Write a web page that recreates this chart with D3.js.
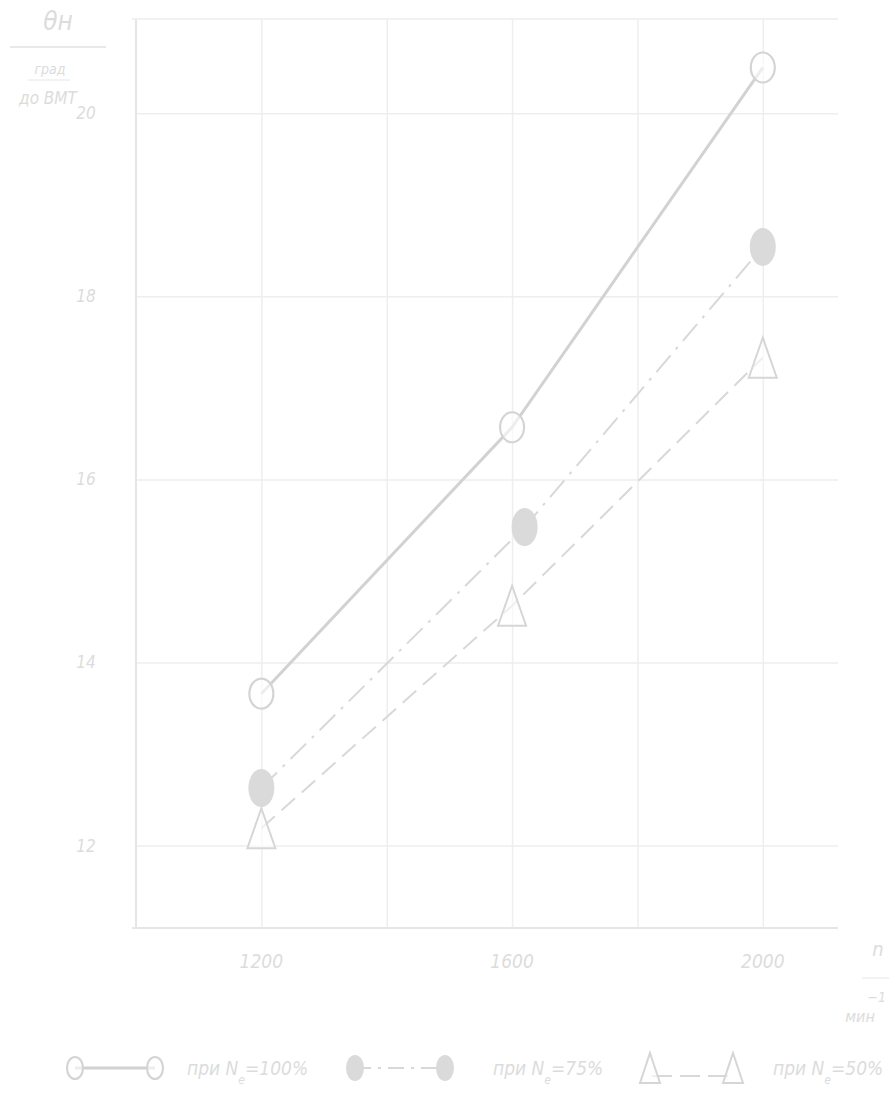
<!DOCTYPE html>
<html>
<head>
<meta charset="utf-8">
<script src="https://cdn.jsdelivr.net/npm/d3@7"></script>
<style>
  body { margin: 0; background: #fff; }
  text { font-family: "Liberation Sans Narrow", "DejaVu Sans Condensed", sans-serif; font-style: italic; fill: #dcdcdc; }
</style>
</head>
<body>
<svg id="chart"></svg>
<script>
// Data
const speeds = [1200, 1600, 2000];
const fullLoad = [13.66, 16.57, 20.5];        // при Nе = 100%
const speedsMid = [1200, 1620, 2000];
const threeQuarterLoad = [12.63, 15.48, 18.54]; // при Nе = 75%
const halfLoad = [12.19, 14.62, 17.33];         // при Nе = 50%
const yTicks = [12, 14, 16, 18, 20];
const xGrid = [1200, 1400, 1600, 1800, 2000];
const xLabels = [1200, 1600, 2000];

const width = 889;
const height = 1102;

const svg = d3.select('#chart')
    .attr('width', width)
    .attr('height', height);

// Scales
const x = d3.scaleLinear().domain([1000, 2120]).range([136, 838]);
const y = d3.scaleLinear().domain([11.1, 21.03]).range([928, 19]);

const gridColor = '#eeeeee';
const lineColor = '#d2d2d2';

// Grid lines
svg.append('g')
    .attr('transform', `translate(0,${y(11.1)})`)
    .call(d3.axisBottom(x).tickValues(xGrid).tickSize(-(y(11.1) - y(21.03))).tickFormat(''))
    .call(g => g.select('.domain').remove())
    .selectAll('line')
    .attr('stroke', gridColor)
    .attr('stroke-width', 1.5);

svg.append('g')
    .attr('transform', `translate(${x(1000)},0)`)
    .call(d3.axisLeft(y).tickValues(yTicks).tickSize(-(x(2120) - x(1000))).tickFormat(''))
    .call(g => g.select('.domain').remove())
    .selectAll('line')
    .attr('stroke', gridColor)
    .attr('stroke-width', 1.5);

// Frame: left axis, bottom axis, top line
svg.append('line')
    .attr('x1', x(1000)).attr('x2', x(1000))
    .attr('y1', y(21.03)).attr('y2', y(11.1))
    .attr('stroke', '#e6e6e6').attr('stroke-width', 2);
svg.append('line')
    .attr('x1', x(1000) - 4).attr('x2', x(2120))
    .attr('y1', y(11.1)).attr('y2', y(11.1))
    .attr('stroke', '#e6e6e6').attr('stroke-width', 2);
svg.append('line')
    .attr('x1', x(1000) - 4).attr('x2', x(2120))
    .attr('y1', y(21.03)).attr('y2', y(21.03))
    .attr('stroke', '#ededed').attr('stroke-width', 1.5);

// Tick labels
svg.append('g').selectAll('text')
    .data(yTicks)
    .join('text')
    .attr('x', 86)
    .attr('y', d => y(d))
    .attr('dy', '0.35em')
    .attr('text-anchor', 'middle')
    .style('font-size', '17px')
    .text(d => d);

svg.append('g').selectAll('text')
    .data(xLabels)
    .join('text')
    .attr('x', d => x(d))
    .attr('y', 968)
    .attr('text-anchor', 'middle')
    .style('font-size', '19px')
    .text(d => d);

// Y axis title
svg.append('text').attr('x', 58).attr('y', 30).attr('text-anchor', 'middle')
    .style('font-size', '26px').text('θн');
svg.append('line').attr('x1', 10).attr('x2', 106).attr('y1', 47).attr('y2', 47)
    .attr('stroke', '#e2e2e2').attr('stroke-width', 1.5);
svg.append('text').attr('x', 50).attr('y', 74).attr('text-anchor', 'middle')
    .style('font-size', '14px').text('град');
svg.append('line').attr('x1', 28).attr('x2', 70).attr('y1', 80).attr('y2', 80)
    .attr('stroke', '#e6e6e6').attr('stroke-width', 1);
svg.append('text').attr('x', 48).attr('y', 104).attr('text-anchor', 'middle')
    .style('font-size', '17px').text('до ВМТ');

// X axis title
svg.append('text').attr('x', 878).attr('y', 956).attr('text-anchor', 'middle')
    .style('font-size', '20px').text('n');
svg.append('line').attr('x1', 862).attr('x2', 889).attr('y1', 978).attr('y2', 978)
    .attr('stroke', '#e6e6e6').attr('stroke-width', 1);
svg.append('text').attr('x', 860).attr('y', 1022).attr('text-anchor', 'middle')
    .style('font-size', '16px').text('мин');
svg.append('text').attr('x', 886).attr('y', 1002).attr('text-anchor', 'end')
    .style('font-size', '14px').text('−1');

// Series lines
const line = (xs) => d3.line()
    .x((d, i) => x(xs[i]))
    .y(d => y(d));

svg.append('path')
    .datum(fullLoad)
    .attr('fill', 'none')
    .attr('stroke', lineColor)
    .attr('stroke-width', 3)
    .attr('d', line(speeds));

svg.append('path')
    .datum(threeQuarterLoad)
    .attr('fill', 'none')
    .attr('stroke', '#d8d8d8')
    .attr('stroke-width', 2)
    .attr('stroke-dasharray', '22 8 3 8')
    .attr('d', line(speedsMid));

svg.append('path')
    .datum(halfLoad)
    .attr('fill', 'none')
    .attr('stroke', '#d8d8d8')
    .attr('stroke-width', 2)
    .attr('stroke-dasharray', '18 9')
    .attr('d', line(speeds));

// Markers
const openCircle = (g, cx, cy) => g.append('ellipse')
    .attr('cx', cx).attr('cy', cy).attr('rx', 12).attr('ry', 15)
    .attr('fill', '#fff').attr('fill-opacity', 0.6)
    .attr('stroke', '#d4d4d4').attr('stroke-width', 2.2);
const filledCircle = (g, cx, cy) => g.append('ellipse')
    .attr('cx', cx).attr('cy', cy).attr('rx', 13).attr('ry', 19)
    .attr('fill', '#dadada');
const triangle = (g, cx, cy, w, h) => g.append('path')
    .attr('d', `M${cx},${cy - h / 2}L${cx + w / 2},${cy + h / 2}L${cx - w / 2},${cy + h / 2}Z`)
    .attr('fill', '#fff').attr('fill-opacity', 0.6)
    .attr('stroke', '#d6d6d6').attr('stroke-width', 2);

const markers = svg.append('g');
fullLoad.forEach((v, i) => openCircle(markers, x(speeds[i]), y(v)));
threeQuarterLoad.forEach((v, i) => filledCircle(markers, x(speedsMid[i]), y(v)));
halfLoad.forEach((v, i) => triangle(markers, x(speeds[i]), y(v), 28, 40));

// Legend
const legend = svg.append('g');
const ly = 1068;

legend.append('line').attr('x1', 75).attr('x2', 155).attr('y1', ly).attr('y2', ly)
    .attr('stroke', lineColor).attr('stroke-width', 3);
openCircle(legend, 75, ly).attr('rx', 8).attr('ry', 11);
openCircle(legend, 155, ly).attr('rx', 8).attr('ry', 11);

legend.append('line').attr('x1', 355).attr('x2', 445).attr('y1', ly).attr('y2', ly)
    .attr('stroke', '#d8d8d8').attr('stroke-width', 2).attr('stroke-dasharray', '16 7 3 7');
filledCircle(legend, 355, ly).attr('rx', 9).attr('ry', 13);
filledCircle(legend, 445, ly).attr('rx', 9).attr('ry', 13);

legend.append('line').attr('x1', 652).attr('x2', 732).attr('y1', ly + 8).attr('y2', ly + 8)
    .attr('stroke', '#d8d8d8').attr('stroke-width', 2).attr('stroke-dasharray', '20 8');
triangle(legend, 650, ly, 20, 30);
triangle(legend, 733, ly, 20, 30);

const legendLabels = [
    { x: 187, pct: '100%' },
    { x: 493, pct: '75%' },
    { x: 773, pct: '50%' }
];
legendLabels.forEach(d => {
    const t = legend.append('text')
        .attr('x', d.x).attr('y', ly + 7)
        .style('font-size', '19px');
    t.append('tspan').text('при N');
    t.append('tspan').attr('dy', 9).style('font-size', '12px').text('е');
    t.append('tspan').attr('dy', -9).text('=' + d.pct);
});
</script>
</body>
</html>
